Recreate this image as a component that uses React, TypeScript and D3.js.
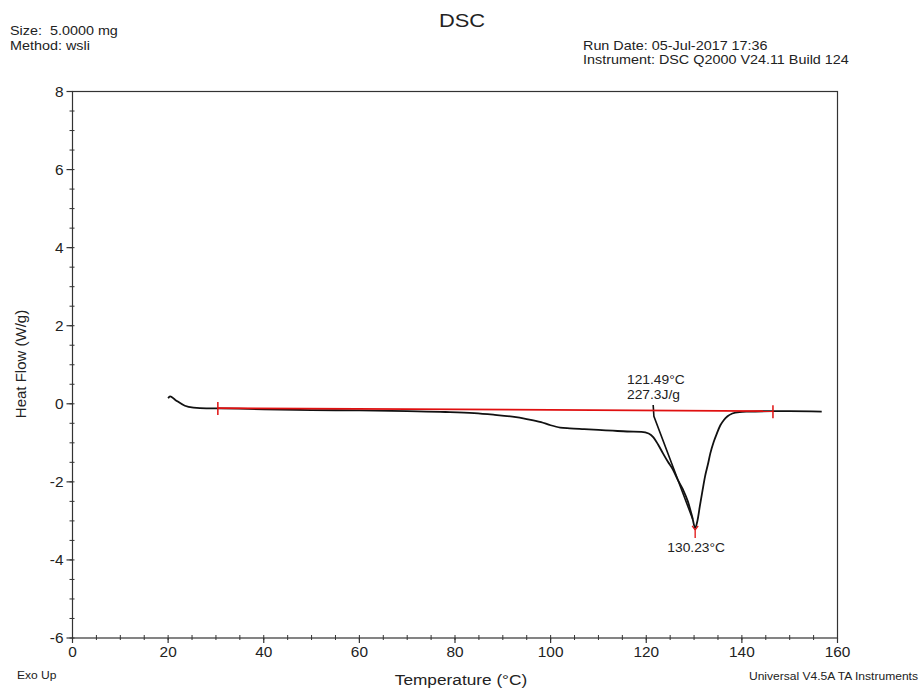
import React from "react";
import * as d3 from "d3";

const curveT = [20.0, 20.4, 21.5, 23.5, 25.3, 28, 30.4, 40, 50, 60, 70, 78, 84, 88, 92, 95, 98, 100, 102, 104, 107, 110, 113, 116, 119, 120.5, 121.5, 122.5, 123.5, 124.5, 125.6, 126.6, 127.7, 128.7, 129.6, 130.23, 130.7, 131.2, 131.8, 132.3, 132.9, 133.4, 134.1, 134.8, 135.5, 136.2, 137, 138, 139.5, 141, 146.5, 150, 156.7];
const curveHF = [0.14, 0.19, 0.1, -0.05, -0.1, -0.12, -0.12, -0.14, -0.16, -0.17, -0.19, -0.21, -0.24, -0.28, -0.33, -0.39, -0.47, -0.55, -0.61, -0.63, -0.65, -0.67, -0.69, -0.71, -0.72, -0.76, -0.86, -1.05, -1.27, -1.48, -1.69, -1.95, -2.2, -2.5, -2.89, -3.18, -3.0, -2.63, -2.2, -1.86, -1.55, -1.27, -0.98, -0.75, -0.55, -0.42, -0.32, -0.25, -0.21, -0.2, -0.19, -0.19, -0.2];

const baselineT = [30.4, 146.5];
const baselineHF = [-0.11, -0.19];

const tangentT = [121.45, 121.6, 129.7];
const tangentHF = [-0.03, -0.32, -2.95];

const peakT = 130.23;
const peakHF = -3.18;

const xTicks = [0, 20, 40, 60, 80, 100, 120, 140, 160];
const yTicks = [-6, -4, -2, 0, 2, 4, 6, 8];

const headerLeft = ["Size:  5.0000 mg", "Method: wsli"];
const headerRight = ["Run Date: 05-Jul-2017 17:36", "Instrument: DSC Q2000 V24.11 Build 124"];
const onsetLabel = ["121.49°C", "227.3J/g"];
const peakLabel = "130.23°C";

const SX = 1.15;

function T(props: { x: number; y: number; size: number; anchor?: string; sx?: number; children: React.ReactNode }) {
  const s = props.sx ?? SX;
  return (
    <text
      transform={`translate(${props.x},${props.y}) scale(${s},1)`}
      fontSize={props.size}
      textAnchor={props.anchor || "start"}
      fill="#222"
      style={{ whiteSpace: "pre" }}
    >
      {props.children}
    </text>
  );
}

export default function App() {
  const W = 923, H = 688;
  const x = d3.scaleLinear().domain([0, 160]).range([72.5, 837.5]);
  const y = d3.scaleLinear().domain([-6, 8]).range([638, 91.5]);
  const line = d3.line<[number, number]>().x(d => x(d[0])).y(d => y(d[1]));
  const curvePts = curveT.map((t, i) => [t, curveHF[i]] as [number, number]);
  const curvePath = d3.line<[number, number]>().x(d => x(d[0])).y(d => y(d[1])).curve(d3.curveMonotoneX)(curvePts) || "";
  const basePts = baselineT.map((t, i) => [t, baselineHF[i]] as [number, number]);
  const tanPts = tangentT.map((t, i) => [t, tangentHF[i]] as [number, number]);
  const xMinor = d3.range(0, 160.01, 5);
  const yMinor = d3.range(-6, 8.01, 0.5);
  const font = "'Liberation Sans', Arial, sans-serif";
  const axisColor = "#333";
  const red = "#e01010";
  const px = x(peakT), py = y(peakHF);
  return (
    <svg width={W} height={H} style={{ position: "absolute", left: 0, top: 0, background: "#fff" }} fontFamily={font}>
      <style>{"body{margin:0}"}</style>
      <T x={462} y={27} size={19} anchor="middle">DSC</T>
      {headerLeft.map((s, i) => (
        <T key={s} x={10} y={35 + i * 14.5} size={12.5}>{s}</T>
      ))}
      {headerRight.map((s, i) => (
        <T key={s} x={583} y={49.5 + i * 14} size={12.5}>{s}</T>
      ))}
      {/* frame */}
      <rect x={x(0)} y={y(8)} width={x(160) - x(0)} height={y(-6) - y(8)} fill="none" stroke={axisColor} strokeWidth={1.2} />
      {/* y ticks */}
      {yMinor.map(v => (
        <line key={"ym" + v} x1={x(0) - 3} x2={x(0) + 2} y1={y(v)} y2={y(v)} stroke={axisColor} strokeWidth={1} />
      ))}
      {yTicks.map(v => (
        <g key={"y" + v}>
          <line x1={x(0) - 6} x2={x(0)} y1={y(v)} y2={y(v)} stroke={axisColor} strokeWidth={1.2} />
          <T x={x(0) - 9} y={y(v) + 5} size={14} anchor="end" sx={1.1}>{v}</T>
        </g>
      ))}
      {xMinor.map(v => (
        <line key={"xm" + v} x1={x(v)} x2={x(v)} y1={y(-6) - 3} y2={y(-6) + 2} stroke={axisColor} strokeWidth={1} />
      ))}
      {xTicks.map(v => (
        <g key={"x" + v}>
          <line x1={x(v)} x2={x(v)} y1={y(-6)} y2={y(-6) + 5} stroke={axisColor} strokeWidth={1.2} />
          <T x={x(v)} y={657} size={14} anchor="middle" sx={1.1}>{v}</T>
        </g>
      ))}
      <text transform={`translate(26,${364}) rotate(-90)`} fontSize={15} textAnchor="middle" fill="#222">Heat Flow (W/g)</text>
      <T x={461} y={685} size={15} anchor="middle">Temperature (°C)</T>
      <T x={17} y={679} size={10.5}>Exo Up</T>
      <T x={918} y={680} size={10.5} anchor="end">Universal V4.5A TA Instruments</T>
      {/* data curve */}
      <path d={curvePath} fill="none" stroke="#111" strokeWidth={1.8} />
      {/* tangent */}
      <path d={line(tanPts) || ""} fill="none" stroke="#111" strokeWidth={1.6} />
      {/* baseline */}
      <path d={line(basePts) || ""} fill="none" stroke={red} strokeWidth={1.8} />
      {basePts.map(p => (
        <line key={"bt" + p[0]} x1={x(p[0])} x2={x(p[0])} y1={y(p[1]) - 6} y2={y(p[1]) + 7} stroke={red} strokeWidth={1.5} />
      ))}
      {/* peak marker */}
      <g stroke={red} strokeWidth={1.3} fill="none">
        <line x1={px} x2={px} y1={py + 1} y2={py + 10} />
        <line x1={px - 3} x2={px} y1={py - 2} y2={py + 2} />
        <line x1={px + 3} x2={px} y1={py - 2} y2={py + 2} />
      </g>
      <T x={px + 1} y={552} size={12} anchor="middle">{peakLabel}</T>
      {onsetLabel.map((s, i) => (
        <T key={s} x={627} y={384 + i * 15} size={12}>{s}</T>
      ))}
    </svg>
  );
}
